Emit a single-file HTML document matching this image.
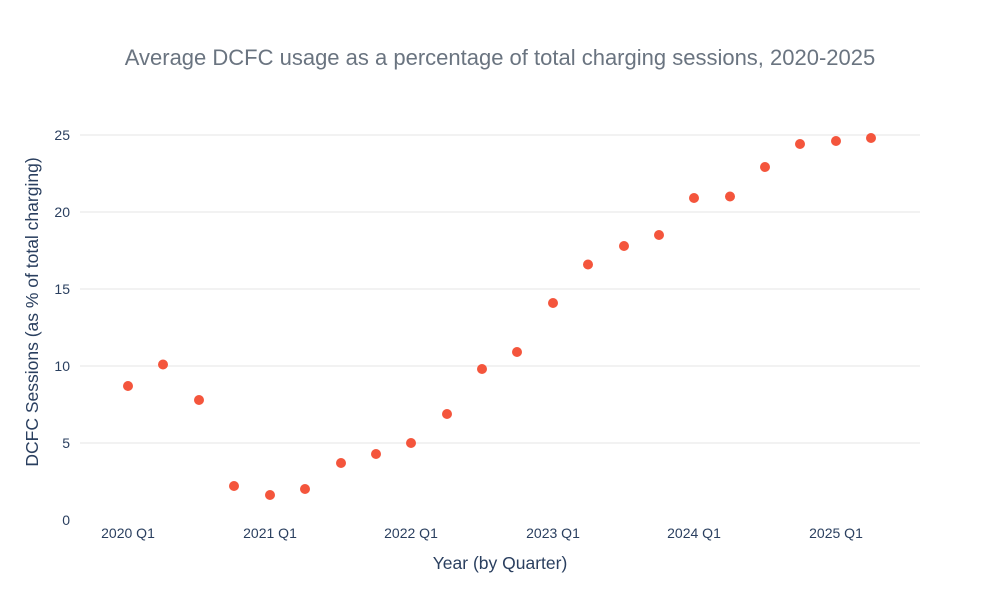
<!DOCTYPE html>
<html><head><meta charset="utf-8"><style>
body{margin:0;background:#fff;}
svg text{font-family:"Liberation Sans",Arial,sans-serif;}
</style></head><body>
<svg width="1000" height="600" xmlns="http://www.w3.org/2000/svg">
<rect width="1000" height="600" fill="#fff"/>
<text x="500" y="65" text-anchor="middle" font-size="22" fill="#6a7480">Average DCFC usage as a percentage of total charging sessions, 2020-2025</text>
<g stroke="#e5e5e5" stroke-width="1">
<line x1="80" x2="920" y1="135" y2="135"/>
<line x1="80" x2="920" y1="212" y2="212"/>
<line x1="80" x2="920" y1="289" y2="289"/>
<line x1="80" x2="920" y1="366" y2="366"/>
<line x1="80" x2="920" y1="443" y2="443"/>
</g>
<g font-size="14" fill="#2a3f5f" text-anchor="end">
<text x="70" y="140">25</text><text x="70" y="217">20</text><text x="70" y="294">15</text>
<text x="70" y="371">10</text><text x="70" y="448">5</text><text x="70" y="525">0</text>
</g>
<g font-size="14" fill="#2a3f5f" text-anchor="middle">
<text x="128" y="538">2020 Q1</text><text x="270" y="538">2021 Q1</text><text x="411" y="538">2022 Q1</text>
<text x="553" y="538">2023 Q1</text><text x="694" y="538">2024 Q1</text><text x="836" y="538">2025 Q1</text>
</g>
<text x="500" y="569" text-anchor="middle" font-size="17.5" fill="#2a3f5f">Year (by Quarter)</text>
<text transform="translate(38,312) rotate(-90)" text-anchor="middle" font-size="17.5" fill="#2a3f5f">DCFC Sessions (as % of total charging)</text>
<g fill="#f4553c">
<circle cx="128" cy="386" r="5"/><circle cx="163" cy="364.5" r="5"/><circle cx="199" cy="400" r="5"/>
<circle cx="234" cy="486" r="5"/><circle cx="270" cy="495" r="5"/><circle cx="305" cy="489" r="5"/>
<circle cx="341" cy="463" r="5"/><circle cx="376" cy="454" r="5"/><circle cx="411" cy="443" r="5"/>
<circle cx="447" cy="414" r="5"/><circle cx="482" cy="369" r="5"/><circle cx="517" cy="352" r="5"/>
<circle cx="553" cy="303" r="5"/><circle cx="588" cy="264.5" r="5"/><circle cx="624" cy="246" r="5"/>
<circle cx="659" cy="235" r="5"/><circle cx="694" cy="198" r="5"/><circle cx="730" cy="196.5" r="5"/>
<circle cx="765" cy="167" r="5"/><circle cx="800" cy="144" r="5"/><circle cx="836" cy="141" r="5"/>
<circle cx="871" cy="138" r="5"/>
</g>
</svg>
</body></html>
